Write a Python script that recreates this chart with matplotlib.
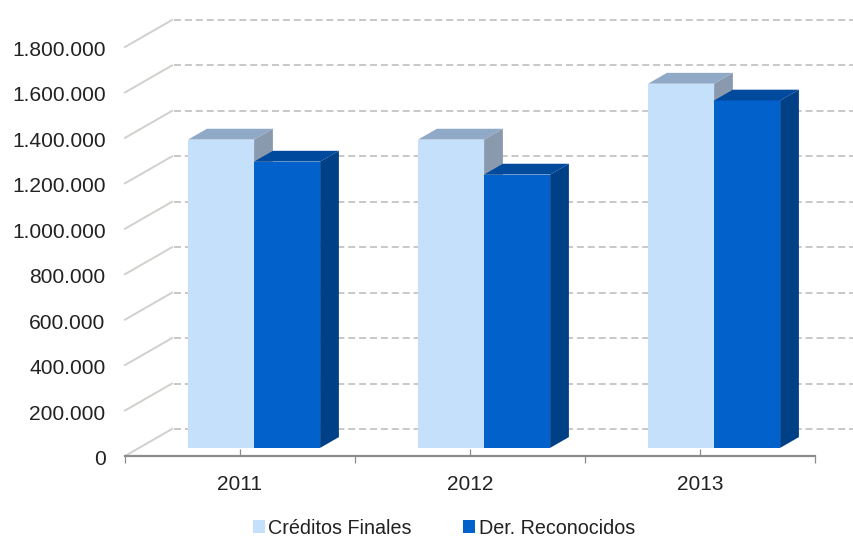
import matplotlib
matplotlib.use("Agg")
import matplotlib.pyplot as plt
from matplotlib.patches import Polygon, Patch
from matplotlib.transforms import ScaledTranslation

plt.rcParams['font.family'] = ['Liberation Sans', 'DejaVu Sans']

years = ["2011", "2012", "2013"]
creditos = [1357000, 1357000, 1603000]
derechos = [1260000, 1203000, 1529000]
y_ticks = [0, 200000, 400000, 600000, 800000, 1000000, 1200000, 1400000, 1600000, 1800000]
y_labels = ["0", "200.000", "400.000", "600.000", "800.000", "1.000.000",
            "1.200.000", "1.400.000", "1.600.000", "1.800.000"]

W, H = 854, 536
fig = plt.figure(figsize=(W / 100, H / 100), dpi=100)
ax = fig.add_axes([125 / W, 80 / H, 690 / W, 409 / H])
ax.set_xlim(0, 3)
ax.set_ylim(0, 1800000)

# depth of the fake 3D floor, in data units
depth_x = 47 / 230
depth_y = 27 * 1800000 / 409
grid_end = 729 / 230

for v in y_ticks:
    ax.plot([0, depth_x], [v, v + depth_y], color="#d2d0cd", lw=1.4, clip_on=False, zorder=1)
    ax.plot([depth_x + 0.01, grid_end], [v + depth_y, v + depth_y], color="#cac8c6", lw=1.4,
            dashes=(3.6, 2.0), clip_on=False, zorder=1)


def bar3d(x0, value, width, front, top, side):
    # bar sits 0.3 into the depth and takes 0.4 of it
    x0 = x0 + 0.3 * depth_x
    base = 0.3 * depth_y
    dx = 0.4 * depth_x
    dy = 0.4 * depth_y
    x1 = x0 + width
    y1 = base + value
    ax.add_patch(Polygon([(x0, base), (x1, base), (x1, y1), (x0, y1)], fc=front, ec="none", zorder=3, clip_on=False))
    ax.add_patch(Polygon([(x0, y1), (x1, y1), (x1 + dx, y1 + dy), (x0 + dx, y1 + dy)], fc=top, ec="none", zorder=3, clip_on=False))
    ax.add_patch(Polygon([(x1, base), (x1 + dx, base + dy), (x1 + dx, y1 + dy), (x1, y1)], fc=side, ec="none", zorder=3, clip_on=False))


bar_w = 66 / 230
for i in range(len(years)):
    bar3d(i + 0.5 - bar_w, creditos[i], bar_w, "#c5e0fb", "#8fa9c6", "#8a9aae")
    bar3d(i + 0.5, derechos[i], bar_w, "#0361cb", "#004a9e", "#004087")

for s in ["top", "left", "right"]:
    ax.spines[s].set_visible(False)
ax.spines["bottom"].set_color("#8c8c8c")
ax.spines["bottom"].set_linewidth(1.6)

ax.set_yticks(y_ticks)
ax.set_yticklabels(y_labels, fontsize=15.1, color="#222222")
ax.tick_params(axis="y", length=0, pad=14)
# labels sit a little under their grid lines
for lab in ax.get_yticklabels():
    lab.set_transform(lab.get_transform() + ScaledTranslation(0, -1.5 / 100, fig.dpi_scale_trans))

ax.set_xticks(range(len(years) + 1))
ax.set_xticklabels([])
ax.tick_params(axis="x", which="major", length=5, width=0.9, color="#8c8c8c")
ax.set_xticks([i + 0.5 for i in range(len(years))], minor=True)
ax.set_xticklabels(years, minor=True, fontsize=15, color="#222222")
ax.tick_params(axis="x", which="minor", direction="in", length=5, width=0.9, color="#8c8c8c", pad=13.5)

handles = [Patch(fc="#c5e0fb", ec="none"), Patch(fc="#0361cb", ec="none")]
fig.legend(handles, ["Créditos Finales", "Der. Reconocidos"], loc="center",
           bbox_to_anchor=(444 / W, 1 - 528 / H), ncol=2, frameon=False, fontsize=14.2,
           handlelength=0.58, handleheight=0.6, handletextpad=0.2, columnspacing=2.6,
           labelcolor="#222222", borderpad=0, borderaxespad=0)

fig.savefig("out.png", dpi=100)
